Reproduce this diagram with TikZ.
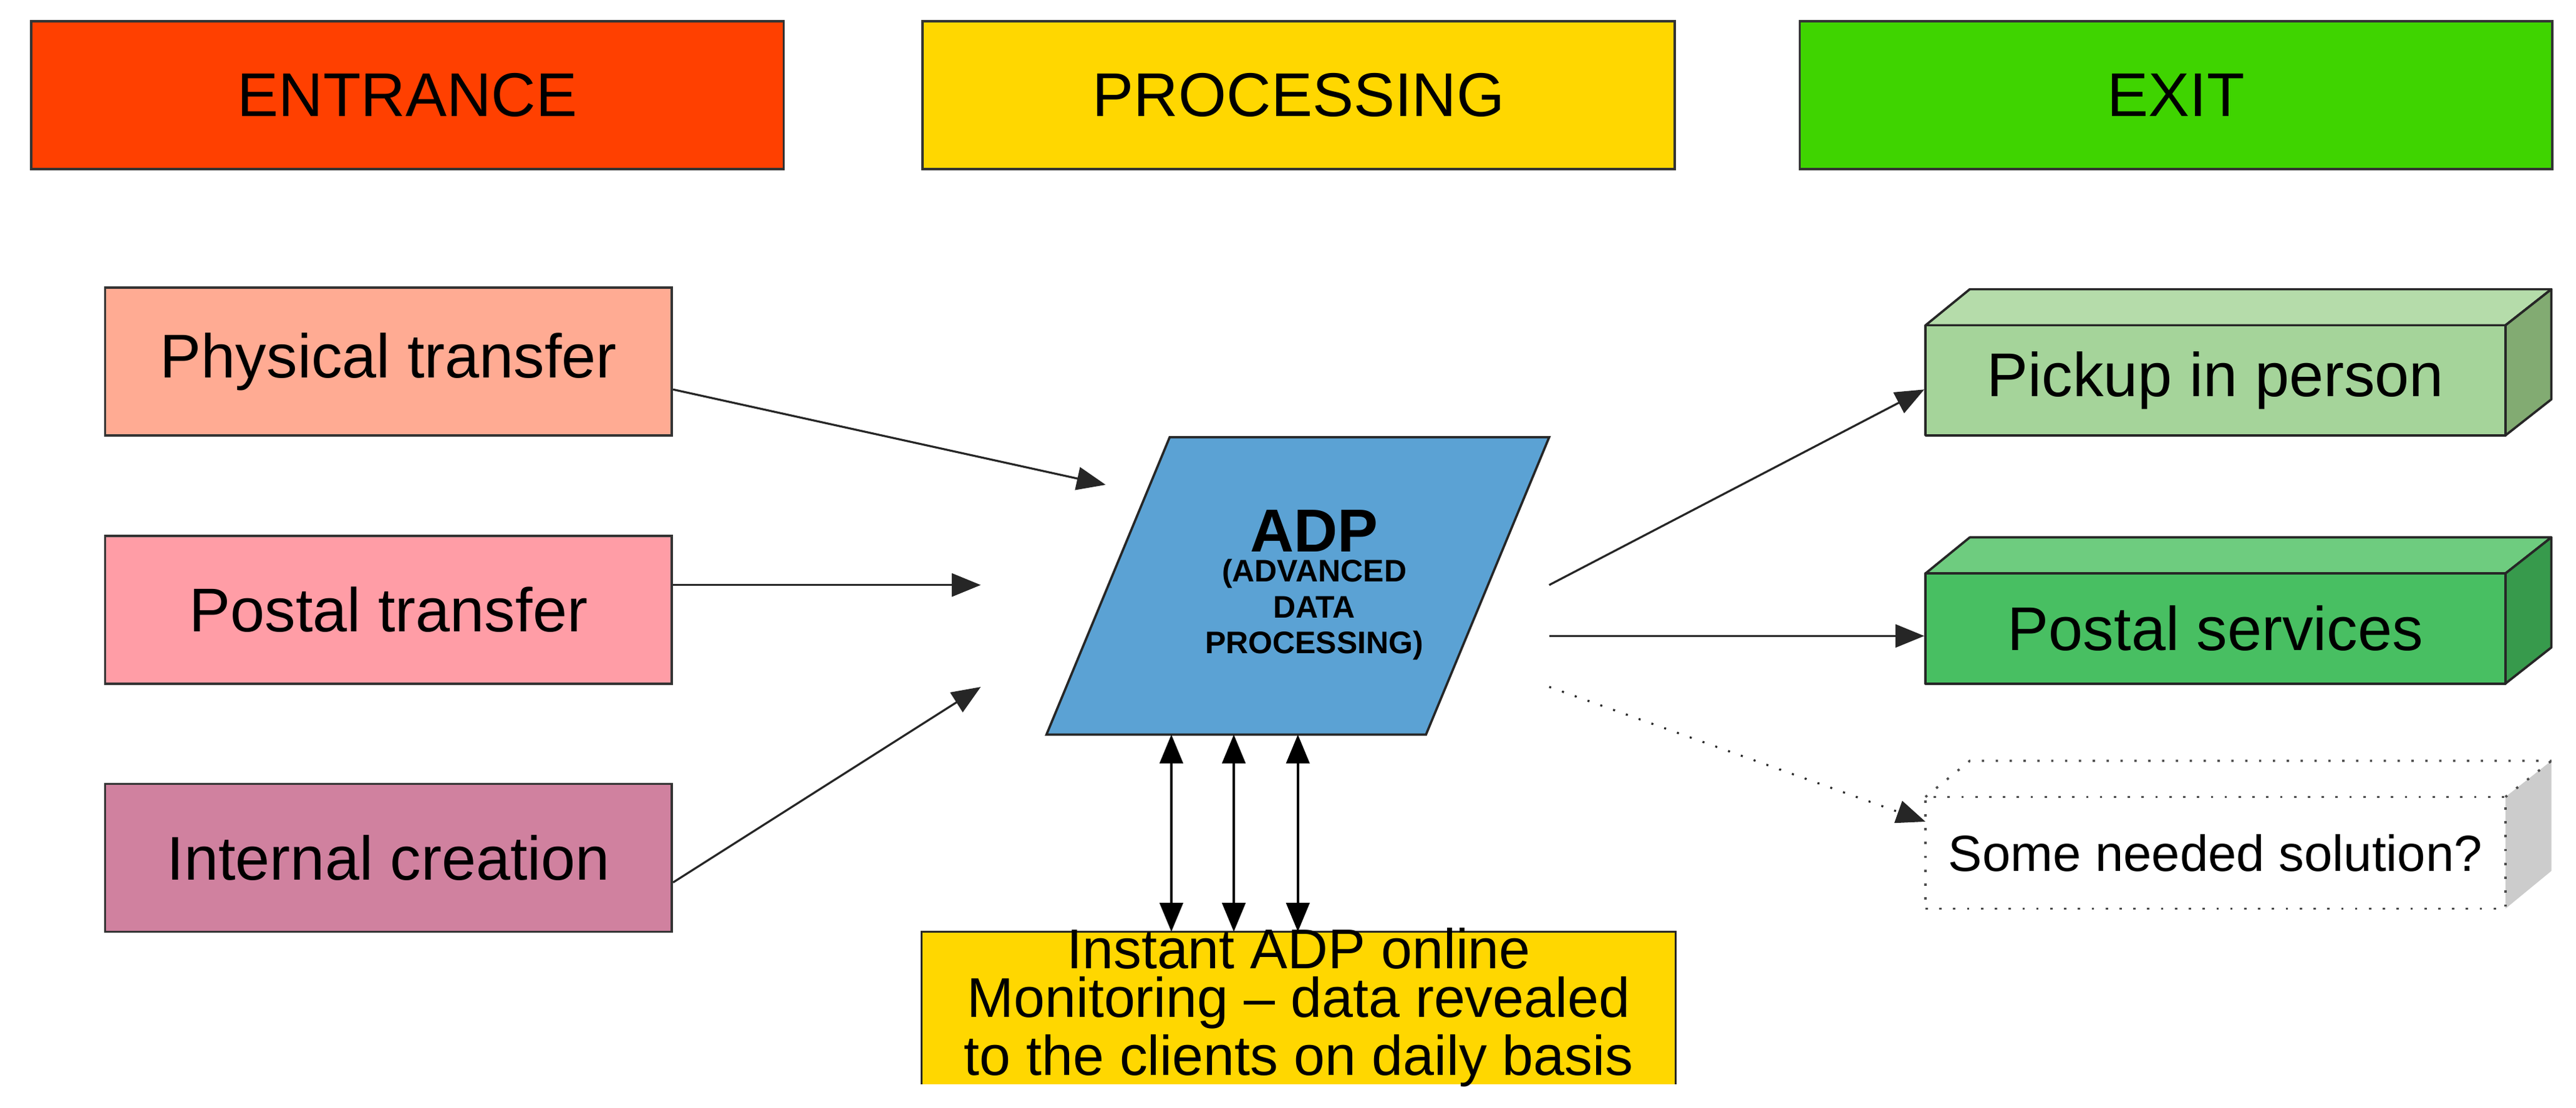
\documentclass[tikz,border=0pt]{standalone}
\usepackage{fontspec}
\setmainfont{Liberation Sans}
\usetikzlibrary{arrows.meta}
\definecolor{cEnt}{HTML}{FF4000}
\definecolor{cProc}{HTML}{FFD700}
\definecolor{cExit}{HTML}{3FD400}
\definecolor{cPhys}{HTML}{FFAB93}
\definecolor{cPost}{HTML}{FF9DA6}
\definecolor{cInt}{HTML}{D0819F}
\definecolor{cAdp}{HTML}{5BA2D4}
\definecolor{pkF}{HTML}{A5D49A}\definecolor{pkT}{HTML}{B5DCAA}\definecolor{pkS}{HTML}{82AB72}
\definecolor{psF}{HTML}{48BF62}\definecolor{psT}{HTML}{6ECC7F}\definecolor{psS}{HTML}{379A4C}
\tikzset{
  hdr/.style={draw=black!80,line width=0.4pt,minimum width=45.8mm,minimum height=9mm,inner sep=0pt,font=\fontsize{10.7pt}{12pt}\selectfont},
  src/.style={draw=black!80,line width=0.4pt,minimum width=34.5mm,minimum height=9mm,inner sep=0pt,font=\fontsize{10.7pt}{12pt}\selectfont},
  arr/.style={-{Triangle[length=5pt,width=4pt]},line width=0.35pt,black!85},
  dbl/.style={{Triangle[length=5pt,width=4pt]}-{Triangle[length=5pt,width=4pt]},line width=0.5pt},
  box3/.style={draw=black!85,line width=0.4pt,line join=round}
}
\begin{document}
\begin{tikzpicture}[x=0.1mm,y=-0.1mm]
\useasboundingbox (0,0) rectangle (1568,674);
% headers
\node[hdr,fill=cEnt] (ent) at (248,58) {ENTRANCE};
\node[hdr,fill=cProc] (proc) at (790.5,58) {PROCESSING};
\node[hdr,fill=cExit] (exit) at (1324.5,58) {EXIT};
% sources
\node[src,fill=cPhys] (phys) at (236.5,220) {Physical transfer};
\node[src,fill=cPost] (post) at (236.5,371) {Postal transfer};
\node[src,fill=cInt] (int) at (236.5,522) {Internal creation};
% ADP
\filldraw[fill=cAdp,draw=black!85,line width=0.4pt] (712,266) -- (943,266) -- (868,447) -- (637,447) -- cycle;
\node[align=center,inner sep=0pt,font=\bfseries\fontsize{5.4pt}{6.2pt}\selectfont] (adp) at (800,356) {\fontsize{10.5pt}{12pt}\selectfont ADP\\[-1pt] (ADVANCED\\DATA\\PROCESSING)};
% monitoring
\fill[cProc] (561,567) rectangle (1020,660);
\draw[black!85,line width=0.4pt] (561,660) -- (561,567) -- (1020,567) -- (1020,660);
\node[align=center,inner sep=0pt,font=\fontsize{9.7pt}{8.4pt}\selectfont] (mon) at (790.5,613) {Instant ADP online\\Monitoring -- data revealed\\to the clients on daily basis};
% 3D boxes
\filldraw[box3,fill=pkT] (1172,198) -- (1199,176) -- (1553,176) -- (1525,198) -- cycle;
\filldraw[box3,fill=pkS] (1525,198) -- (1553,176) -- (1553,243) -- (1525,265) -- cycle;
\node[box3,fill=pkF,minimum width=35.3mm,minimum height=6.7mm,inner sep=0pt,font=\fontsize{10.7pt}{12pt}\selectfont] (pick) at (1348.5,231.5) {Pickup in person};
\filldraw[box3,fill=psT] (1172,349) -- (1199,327) -- (1553,327) -- (1525,349) -- cycle;
\filldraw[box3,fill=psS] (1525,349) -- (1553,327) -- (1553,394) -- (1525,416) -- cycle;
\node[box3,fill=psF,minimum width=35.3mm,minimum height=6.7mm,inner sep=0pt,font=\fontsize{10.7pt}{12pt}\selectfont] (pserv) at (1348.5,382.5) {Postal services};
\fill[black!20] (1525,485) -- (1553,463) -- (1553,530) -- (1525,553) -- cycle;
\draw[dotted,black!70,line width=0.4pt] (1172,485) -- (1199,463) -- (1553,463);
\draw[dotted,black!70,line width=0.4pt] (1525,485) -- (1553,463);
\node[draw=black!70,dotted,line width=0.4pt,minimum width=35.3mm,minimum height=6.8mm,inner sep=0pt,font=\fontsize{8.8pt}{10pt}\selectfont] (some) at (1348.5,519) {Some needed solution?};
% arrow targets
\coordinate (t1) at (673,295);
\coordinate (t2) at (597,356);
\coordinate (t3) at (597,418);
\coordinate (s1) at (943,356);
\coordinate (s2) at (943,387);
\coordinate (s3) at (943,418);
\coordinate (e3) at (1172,500);
\draw[arr] (phys.east |- 0,237) -- (t1);
\draw[arr] (post.east |- 0,356) -- (t2);
\draw[arr] (int.east |- 0,537) -- (t3);
\draw[arr] (s1) -- (pick.west |- 0,237);
\draw[arr] (s2) -- (pserv.west |- 0,387);
\draw[arr,dotted] (s3) -- (e3);
\foreach \x in {713,751,790} \draw[dbl] (\x,447) -- (\x,567);
\end{tikzpicture}
\end{document}
